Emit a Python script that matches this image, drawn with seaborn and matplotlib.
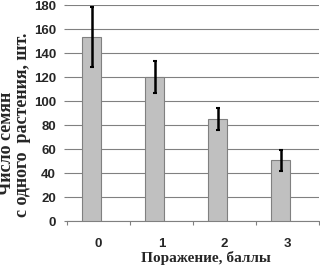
import matplotlib
matplotlib.use("Agg")
import matplotlib.pyplot as plt
import seaborn as sns
import pandas as pd

categories = ["0", "1", "2", "3"]
values = [153, 120, 85, 50.5]
errors = [25, 13, 9, 8.5]
yticks = [0, 20, 40, 60, 80, 100, 120, 140, 160, 180]

sns.set_theme(style="white")
plt.rcParams['font.family'] = ['Liberation Sans', 'DejaVu Sans']
serif = ["Liberation Serif", "DejaVu Serif"]

df = pd.DataFrame({"cat": categories, "val": values})

fig = plt.figure(figsize=(3.2, 2.7), dpi=100)
ax = fig.add_axes([67/320, 49/270, 252/320, 216/270])

sns.barplot(data=df, x="cat", y="val", ax=ax, color="#c0c0c0",
            width=0.31, edgecolor="#808080", linewidth=0.8,
            saturation=1, errorbar=None, zorder=3)

shift = -0.11
centers = []
for p in ax.patches:
    p.set_x(p.get_x() + shift)
    centers.append(p.get_x() + p.get_width() / 2)

ax.errorbar(centers, values, yerr=errors, fmt="none", ecolor="black",
            elinewidth=1.8, capsize=1.5, capthick=1.5, zorder=4)

ax.set_xlim(-0.5, 3.5)
ax.set_ylim(0, 180)
ax.set_yticks(yticks)
ax.yaxis.grid(True, color="#808080", linewidth=0.8, zorder=0)
ax.set_axisbelow(True)

for s in ["top", "right", "left"]:
    ax.spines[s].set_visible(False)
ax.spines["bottom"].set_color("#808080")
ax.spines["bottom"].set_linewidth(0.8)

ax.set_xticks([-0.5, 0.5, 1.5, 2.5, 3.5], minor=True)
ax.set_xticks([0, 1, 2, 3])
ax.set_xticklabels(categories)
ax.tick_params(axis="x", which="major", length=0, pad=12, labelsize=9.5)
ax.tick_params(axis="x", which="minor", length=3, color="#808080", width=0.8, direction="out", bottom=True)
ax.tick_params(axis="y", length=2, color="#808080", width=0.8, direction="out", left=True, labelsize=9.5, pad=6)
for lbl in ax.get_xticklabels() + ax.get_yticklabels():
    lbl.set_fontweight("bold")

ax.set_xlabel("")
ax.set_ylabel("")

fig.text(206/320, 8/270, "Поражение, баллы", ha="center", va="baseline",
         fontfamily=serif, fontweight="bold", fontsize=11)

fig.text(7/320, 127/270, "Число семян", rotation=90, ha="center", va="center",
         fontfamily=serif, fontweight="bold", fontsize=13)
fig.text(23/320, 145/270, "с одного  растения, шт.", rotation=90, ha="center", va="center",
         fontfamily=serif, fontweight="bold", fontsize=13)

fig.savefig("out.png", dpi=100)
